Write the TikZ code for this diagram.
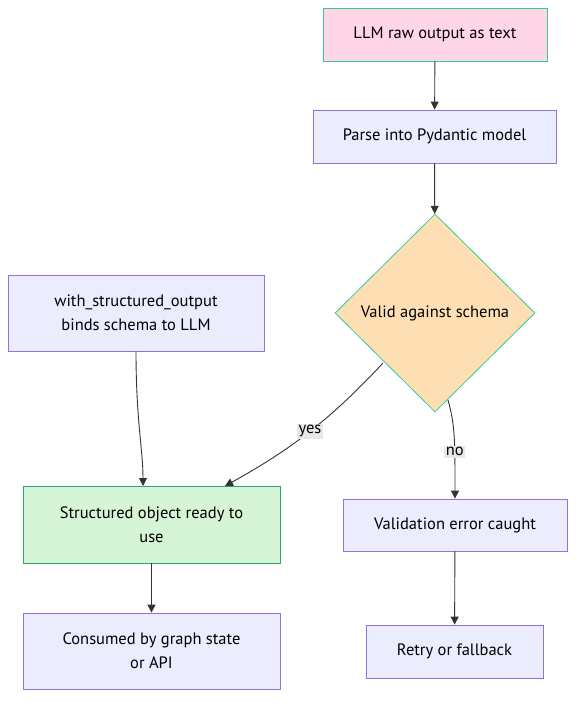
\documentclass[tikz,border=0pt]{standalone}
\usepackage{fontspec}
\setmainfont{PT Sans}
\usetikzlibrary{arrows.meta,shapes.geometric}
\definecolor{pinkf}{HTML}{FFD6E8}
\definecolor{tealb}{HTML}{33CC99}
\definecolor{lavf}{HTML}{ECECFF}
\definecolor{purb}{HTML}{9370DB}
\definecolor{wheatf}{HTML}{FDDFB3}
\definecolor{greenf}{HTML}{D6F5D6}
\definecolor{greenb}{HTML}{22AA77}
\definecolor{edgec}{HTML}{333333}
\definecolor{lblf}{HTML}{E8E8E8}
\begin{document}
\begin{tikzpicture}[x=1pt,y=-1pt,
  every node/.style={font=\fontsize{16.5}{24}\selectfont, text=black},
  boxstyle/.style={draw=purb, fill=lavf, line width=0.8pt, align=center, inner sep=0pt},
  pinkbox/.style={boxstyle, draw=tealb, fill=pinkf},
  greenbox/.style={boxstyle, draw=greenb, fill=greenf},
  edge/.style={draw=edgec, line width=0.9pt, -{Triangle[length=8pt,width=8pt]}},
  lbl/.style={fill=lblf, inner sep=1.5pt, font=\fontsize{16.5}{18}\selectfont}
]
\useasboundingbox (0,0) rectangle (582,707);
\fill[white] (0,0) rectangle (582,707);
\node[pinkbox, minimum width=224pt, minimum height=53pt] (A) at (435,34.5) {LLM raw output as text};
\node[boxstyle, minimum width=243pt, minimum height=53pt] (B) at (434.5,136.5) {Parse into Pydantic model};
\node[diamond, draw=tealb, fill=wheatf, line width=0.8pt, minimum width=200pt, minimum height=198pt, inner sep=0pt, aspect=1.01] (C) at (435,313) {Valid against schema};
\node[boxstyle, minimum width=256pt, minimum height=76pt] (D) at (136,313) {with\_structured\_output\\binds schema to LLM};
\node[greenbox, minimum width=257pt, minimum height=77pt] (E) at (151.5,524.5) {Structured object ready to\\use};
\node[boxstyle, minimum width=257pt, minimum height=76pt] (F) at (151.5,651) {Consumed by graph state\\or API};
\node[boxstyle, minimum width=224pt, minimum height=52pt] (G) at (455,525) {Validation error caught};
\node[boxstyle, minimum width=177pt, minimum height=53pt] (H) at (454.5,651.5) {Retry or fallback};
\draw[edge] (A) -- (B);
\draw[edge] (B) -- (C);
\coordinate (cy) at (383,363);
\coordinate (cn) at (448,400);
\draw[edge] (cy) .. controls (330,420) and (290,450) .. (225,486) node[pos=0.49, lbl] {yes};
\draw[edge] (cn) .. controls (455,425) and (455,440) .. (G.north) node[pos=0.66, lbl] {no};
\draw[edge] (D.south) .. controls (136,420) and (143,450) .. (143,486);
\draw[edge] (E) -- (F);
\draw[edge] (G) -- (H);
\end{tikzpicture}
\end{document}
